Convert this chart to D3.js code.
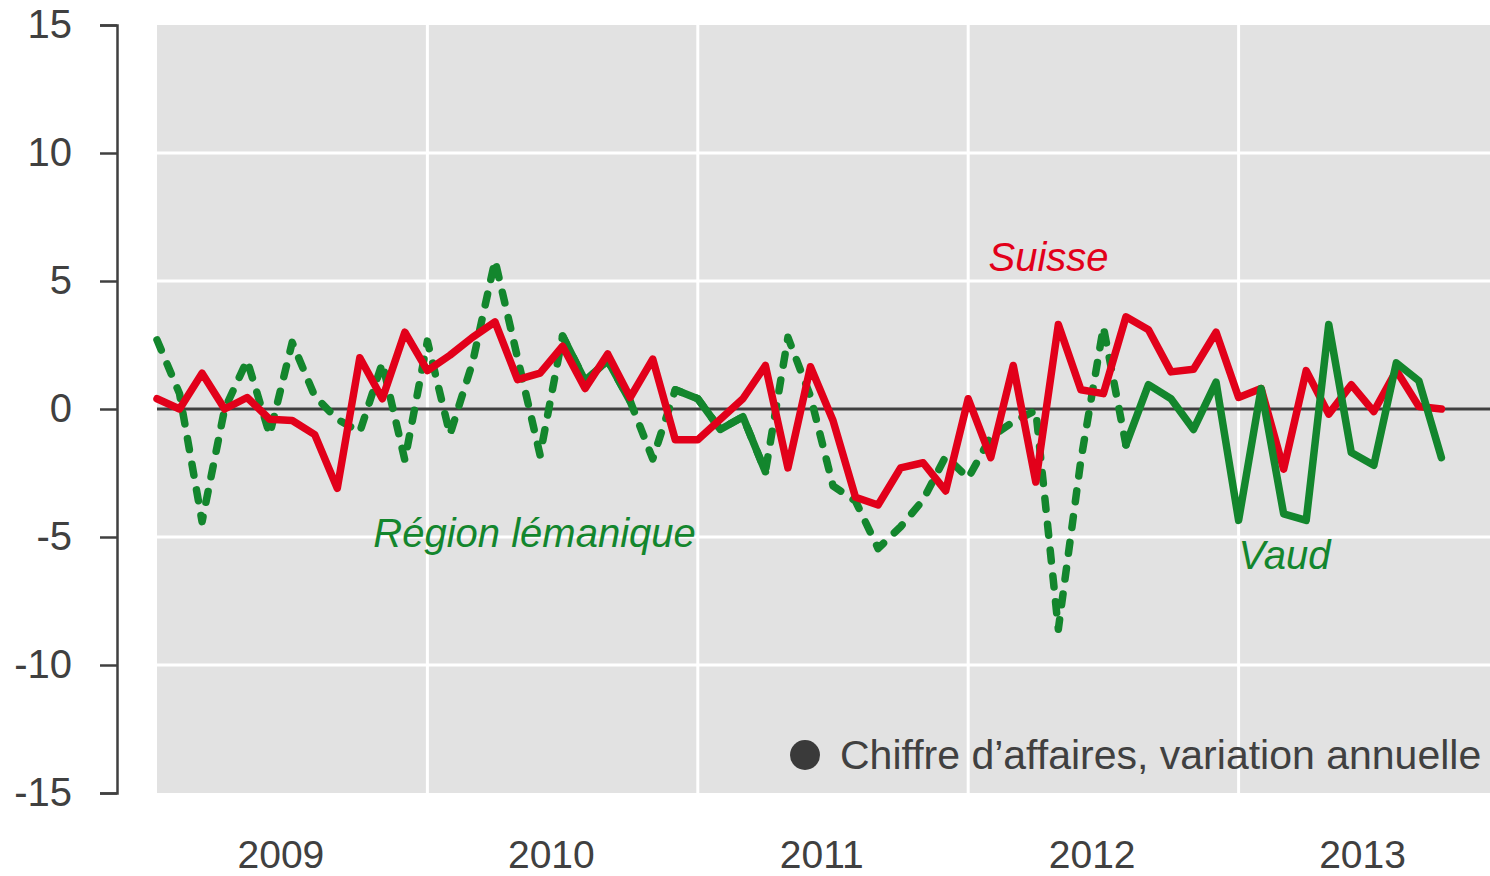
<!DOCTYPE html>
<html>
<head>
<meta charset="utf-8">
<script src="https://d3js.org/d3.v7.min.js"></script>
<style>
	body { margin: 0; background: #ffffff; }
	text { font-family: "Liberation Sans", Arial, sans-serif; }
</style>
</head>
<body>
<svg id="chart"></svg>
<script>

const WIDTH = 1490;
const HEIGHT = 876;
const PLOT = {left: 157, right: 1509, top: 25, bottom: 793};

const RED = '#e2001a';
const GREEN = '#13862d';
const INK = '#404040';
const LINE_W = 7.5;

// Monthly values, Jan 2009 .. Oct 2013
const years = ['2009', '2010', '2011', '2012', '2013'];
const yTicks = [-15, -10, -5, 0, 5, 10, 15];

const suisse = [
	0.4, 0.0, 1.4, 0.0, 0.45, -0.4, -0.45, -1.0, -3.1, 2.0, 0.4, 3.0,
	1.5, 2.1, 2.8, 3.4, 1.15, 1.4, 2.45, 0.8, 2.15, 0.45, 1.95, -1.2,
	-1.2, -0.4, 0.4, 1.7, -2.3, 1.65, -0.45, -3.45, -3.75, -2.3, -2.1, -3.2,
	0.4, -1.9, 1.7, -2.85, 3.3, 0.75, 0.6, 3.6, 3.1, 1.45, 1.55, 3.0,
	0.45, 0.8, -2.35, 1.5, -0.2, 0.95, -0.1, 1.5, 0.1, 0.0
];

const lemanique = [
	2.7, 0.6, -4.4, 0.0, 1.9, -1.0, 2.6, 0.5, -0.4, -0.9, 1.8, -2.0,
	2.65, -1.0, 1.8, 5.8, 2.0, -1.8, 2.85, 1.1, 1.9, 0.3, -1.95, 0.75,
	0.4, -0.8, -0.3, -2.45, 2.8, 0.5, -3.0, -3.6, -5.45, -4.6, -3.55, -1.85,
	-2.7, -1.1, -0.5, -0.05, -8.6, -2.0, 3.2, -1.4, null, null, null, null,
	null, null, null, null, null, null, null, null, null, null
];

const vaud = [
	null, null, null, null, null, null, null, null, null, null, null, null,
	null, null, null, null, null, null, 2.85, 1.1, 1.9, 0.3, null, 0.75,
	0.4, -0.8, -0.3, -2.45, null, null, null, null, null, null, null, null,
	null, null, null, null, null, null, null, -1.4, 0.95, 0.4, -0.8, 1.05,
	-4.35, 0.8, -4.1, -4.35, 3.3, -1.7, -2.2, 1.8, 1.1, -1.9
];

makeChart();

function makeChart(){
	let svg = d3.select('#chart')
		.attr('width', WIDTH)
		.attr('height', HEIGHT);

	// one unit = one month from Jan 2009, five years across the plot
	let x = d3.scaleLinear().domain([0, 60]).range([PLOT.left, PLOT.right]);
	let y = d3.scaleLinear().domain([-15, 15]).range([PLOT.bottom, PLOT.top]);

	//Background
	svg.append('rect')
		.attr('x', x(0))
		.attr('y', y(15))
		.attr('width', x(60) - x(0))
		.attr('height', y(-15) - y(15))
		.style('fill', '#e2e2e2');

	//Horizontal grid
	svg.append('g')
		.selectAll('line')
		.data(yTicks.filter(d => d !== 0 && Math.abs(d) !== 15))
		.enter()
		.append('line')
		.attr('x1', x(0))
		.attr('x2', x(60))
		.attr('y1', d => y(d))
		.attr('y2', d => y(d))
		.style('stroke', '#ffffff')
		.style('stroke-width', 3);

	//Vertical grid at year boundaries
	svg.append('g')
		.selectAll('line')
		.data(years.slice(1))
		.enter()
		.append('line')
		.attr('x1', (d, i) => x((i + 1) * 12))
		.attr('x2', (d, i) => x((i + 1) * 12))
		.attr('y1', y(15))
		.attr('y2', y(-15))
		.style('stroke', '#ffffff')
		.style('stroke-width', 3);

	//Zero line
	svg.append('line')
		.attr('x1', x(0))
		.attr('x2', x(60))
		.attr('y1', y(0))
		.attr('y2', y(0))
		.style('stroke', INK)
		.style('stroke-width', 3);

	//Y axis (plain hyphen for negatives, like the original)
	let yAxis = svg.append('g')
		.attr('transform', 'translate(117,0)')
		.call(d3.axisLeft(y)
			.tickValues(yTicks)
			.tickFormat(d => String(d))
			.tickSize(17)
			.tickSizeOuter(17)
			.tickPadding(28));
	yAxis.selectAll('path, line')
		.style('stroke', INK)
		.style('stroke-width', 2.5);
	yAxis.selectAll('text')
		.style('font-family', '"Liberation Sans", Arial, sans-serif')
		.style('font-size', '40px')
		.style('fill', INK);

	//Year labels
	svg.append('g')
		.selectAll('text')
		.data(years)
		.enter()
		.append('text')
		.attr('x', (d, i) => x(i * 12 + 5.5))
		.attr('y', 868)
		.style('text-anchor', 'middle')
		.style('font-size', '39px')
		.style('fill', INK)
		.text(d => d);

	let line = d3.line()
		.defined(d => d != null)
		.x((d, i) => x(i))
		.y(d => y(d));

	//Région lémanique (dashed)
	svg.append('path')
		.attr('d', line(lemanique))
		.style('fill', 'none')
		.style('stroke', GREEN)
		.style('stroke-width', LINE_W)
		.style('stroke-linecap', 'round')
		.style('stroke-linejoin', 'round')
		.style('stroke-dasharray', '11,15');

	//Vaud, early part sits under the red line
	let vaudLine = d3.line()
		.x((d, i) => x(i))
		.y(d => y(d));

	svg.append('path')
		.attr('d', vaudLine.defined((d, i) => d != null && i < 43)(vaud))
		.style('fill', 'none')
		.style('stroke', GREEN)
		.style('stroke-width', LINE_W)
		.style('stroke-linejoin', 'round')
		.style('stroke-linecap', 'round');

	//Suisse
	svg.append('path')
		.attr('d', line(suisse))
		.style('fill', 'none')
		.style('stroke', RED)
		.style('stroke-width', LINE_W)
		.style('stroke-linejoin', 'round')
		.style('stroke-linecap', 'round');

	//Vaud, late part on top
	svg.append('path')
		.attr('d', vaudLine.defined((d, i) => d != null && i >= 43)(vaud))
		.style('fill', 'none')
		.style('stroke', GREEN)
		.style('stroke-width', LINE_W)
		.style('stroke-linejoin', 'round')
		.style('stroke-linecap', 'round');

	//Series labels
	let labels = svg.append('g')
		.style('font-size', '40px')
		.style('font-style', 'italic');
	labels.append('text')
		.attr('x', x(36.9))
		.attr('y', y(5.4))
		.style('fill', RED)
		.text('Suisse');
	labels.append('text')
		.attr('x', x(9.6))
		.attr('y', y(-5.4))
		.style('fill', GREEN)
		.text('Région lémanique');
	labels.append('text')
		.attr('x', x(48))
		.attr('y', y(-6.25))
		.style('fill', GREEN)
		.text('Vaud');

	//Legend note
	svg.append('circle')
		.attr('cx', 805)
		.attr('cy', 755)
		.attr('r', 15)
		.style('fill', '#3a3a3a');
	svg.append('text')
		.attr('x', 840)
		.attr('y', 769)
		.style('font-size', '41px')
		.style('fill', INK)
		.text('Chiffre d’affaires, variation annuelle');
}
</script>
</body>
</html>
